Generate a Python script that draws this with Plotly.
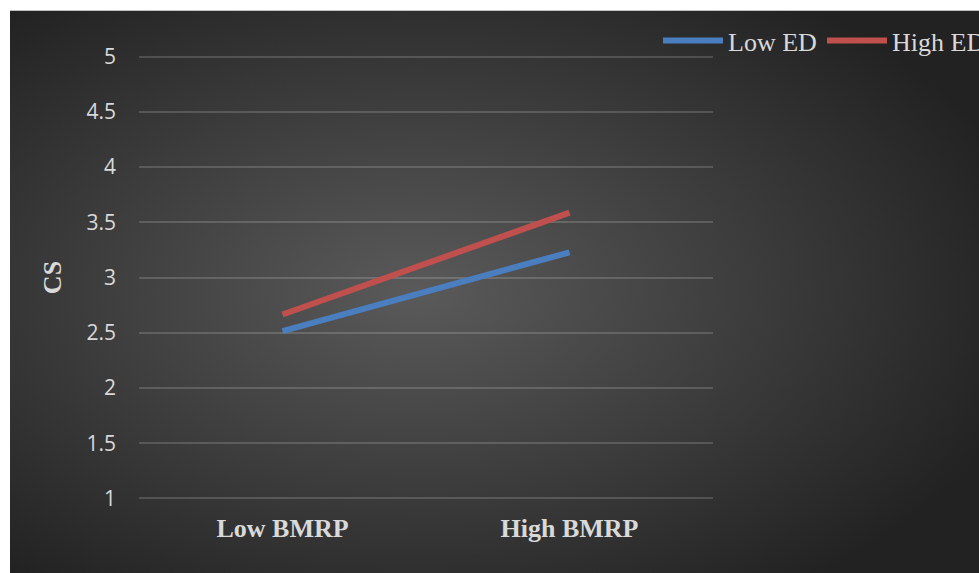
import base64
import plotly.graph_objects as go

# Interaction plot data
categories = ["Low BMRP", "High BMRP"]
low_ed = [2.515, 3.228]
high_ed = [2.665, 3.587]
series_names = ["Low ED", "High ED"]
y_ticks = [1, 1.5, 2, 2.5, 3, 3.5, 4, 4.5, 5]

W, H = 979, 573
y_lo, y_hi = 0.95, 5.05          # small padding so the 1 and 5 gridlines show
px_per_unit = 110.25
L, R = 139, 266
T = 57 - (y_hi - 5) * px_per_unit
B = H - (498 + (1 - y_lo) * px_per_unit)
pw, ph = W - L - R, H - T - B

# dark radial-gradient panel used as the chart background
svg = (
    '<svg xmlns="http://www.w3.org/2000/svg" width="969" height="562" '
    'preserveAspectRatio="none">'
    '<defs><radialGradient id="g" cx="42%" cy="50%" r="65%">'
    '<stop offset="0" stop-color="#5a5a5a"/>'
    '<stop offset="1" stop-color="#222222"/>'
    '</radialGradient></defs>'
    '<rect width="969" height="562" fill="url(#g)"/></svg>'
)
bg_src = "data:image/svg+xml;base64," + base64.b64encode(svg.encode()).decode()

fig = go.Figure()
fig.add_trace(go.Scatter(x=categories, y=low_ed, name=series_names[0], mode="lines",
                         line=dict(color="#4a7ebf", width=6)))
fig.add_trace(go.Scatter(x=categories, y=high_ed, name=series_names[1], mode="lines",
                         line=dict(color="#c0504d", width=6)))

panel_x0, panel_y0 = 10, 11
fig.add_layout_image(
    source=bg_src, xref="paper", yref="paper",
    x=(panel_x0 - L) / pw, y=(H - B - panel_y0) / ph,
    sizex=(W - panel_x0) / pw, sizey=(H - panel_y0) / ph,
    xanchor="left", yanchor="top", sizing="stretch", layer="below",
)

fig.update_layout(
    width=W, height=H,
    margin=dict(l=L, r=R, t=T, b=B, autoexpand=False),
    paper_bgcolor="white",
    plot_bgcolor="rgba(0,0,0,0)",
    showlegend=True,
    legend=dict(
        orientation="h", x=(658 - L) / pw, y=(H - B - 41) / ph,
        xanchor="left", yanchor="middle",
        font=dict(family="Liberation Serif", size=26, color="#d9d9d9"),
        bgcolor="rgba(0,0,0,0)", itemwidth=60, entrywidth=89,
        tracegroupgap=0,
    ),
    xaxis=dict(
        type="category", range=[-0.5, 1.5], showgrid=False, zeroline=False,
        showline=False, ticks="", ticklabelstandoff=6,
        tickfont=dict(family="Liberation Serif", size=26, color="#d9d9d9",
                      weight="bold"),
    ),
    yaxis=dict(
        range=[y_lo, y_hi], tickvals=y_ticks, ticktext=[f"{v:g}" for v in y_ticks],
        showgrid=True, gridcolor="rgba(255,255,255,0.16)", gridwidth=1.5,
        zeroline=False, showline=False, ticks="", ticklabelstandoff=22,
        tickfont=dict(family="Open Sans", size=21, color="#d9d9d9"),
        title=dict(text="CS", standoff=17,
                   font=dict(family="Liberation Serif", size=26, color="#d9d9d9",
                             weight="bold")),
    ),
)

fig.write_html("out.html")
